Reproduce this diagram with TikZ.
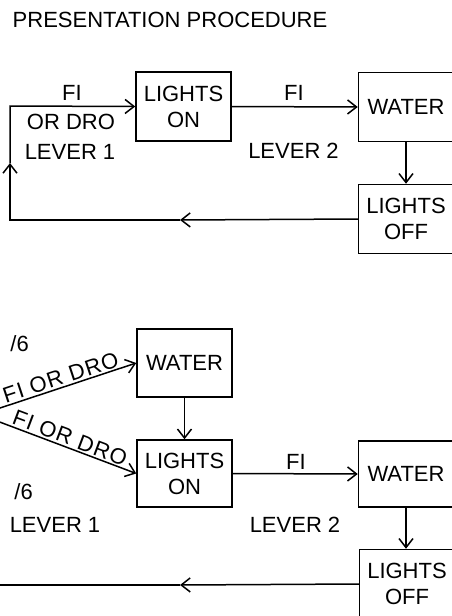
\documentclass[tikz,border=0pt]{standalone}
\usepackage{fontspec}
\setmainfont{Liberation Sans}
\usetikzlibrary{arrows.meta}
\tikzset{
  stagebox/.style={draw, line width=1.5pt, minimum width=95pt, minimum height=69pt, inner sep=0pt, align=center},
  flow/.style={line width=1.5pt, -{Straight Barb[length=9pt,width=14pt,line width=1.5pt]}},
  wire/.style={line width=1.5pt},
  tag/.style={inner sep=0pt},
  slanttag/.style={sloped, above, inner sep=1.5pt, font=\fontsize{22}{26}\selectfont\addfontfeatures{LetterSpace=5}}
}
\begin{document}
\begin{tikzpicture}[x=1pt, y=-1pt, font=\fontsize{22}{26}\selectfont]
\useasboundingbox (0,0) rectangle (451,616);
\node[tag] (title) at (170,20) {PRESENTATION PROCEDURE};
% first schedule
\node[stagebox] (lonA) at (183.5,106.5) {LIGHTS\\ON};
\node[stagebox] (watA) at (406,107) {WATER};
\node[stagebox] (loffA) at (406,219) {LIGHTS\\OFF};
\coordinate (botMidA) at (180,220); \coordinate (cornerBLA) at (10,220);
\coordinate (leftMidA) at (10,163); \coordinate (cornerTLA) at (10,106);
\draw[flow] (lonA.east) -- (watA.west);
\draw[flow] (watA.south) -- (loffA.north);
\draw[flow] (loffA.west) -- (botMidA);
\draw[flow] (botMidA) -- (cornerBLA) -- (leftMidA);
\draw[flow] (leftMidA) -- (cornerTLA) -- (lonA.west);
\node[tag] (fiA) at (72,93) {FI};
\node[tag] (droA) at (71,122) {OR DRO};
\node[tag] (leverOneA) at (70,152) {LEVER 1};
\node[tag] (fiB) at (294,93) {FI};
\node[tag] (leverTwoA) at (293.5,151) {LEVER 2};
% second schedule
\node[stagebox, minimum height=68pt] (watB) at (184.5,363) {WATER};
\node[stagebox, minimum height=67pt] (lonB) at (184.5,473.5) {LIGHTS\\ON};
\node[stagebox, minimum height=66pt] (watC) at (406,474) {WATER};
\node[stagebox] (loffB) at (407,584) {LIGHTS\\OFF};
\coordinate (inUpB) at (-3,409); \coordinate (inDownB) at (-3,421);
\coordinate (botMidB) at (180,585); \coordinate (outB) at (-5,585);
\draw[flow] (inUpB) -- node[slanttag, pos=0.48] {FI OR DRO} (watB.west);
\draw[flow] (inDownB) -- node[slanttag, pos=0.5] {FI OR DRO} (lonB.west);
\draw[flow] (watB.south) -- (lonB.north);
\draw[flow] (lonB.east) -- (watC.west);
\draw[flow] (watC.south) -- (watC.south |- loffB.north);
\draw[flow] (loffB.west) -- (botMidB);
\draw[wire] (botMidB) -- (outB);
\node[tag, anchor=east] (ratioUp) at (29,344) {/6};
\node[tag, anchor=east] (ratioDown) at (33,491.5) {/6};
\node[tag] (leverOneB) at (55,525) {LEVER 1};
\node[tag] (fiC) at (296,461.5) {FI};
\node[tag] (leverTwoB) at (295,525) {LEVER 2};
\end{tikzpicture}
\end{document}
